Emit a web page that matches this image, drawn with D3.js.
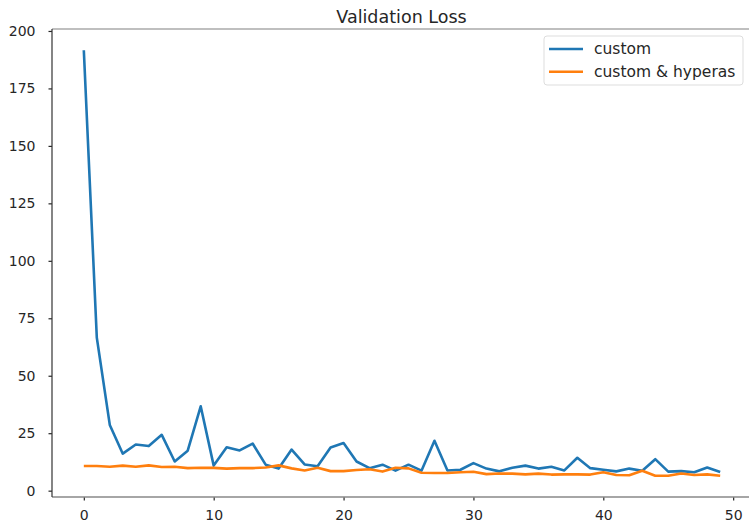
<!DOCTYPE html>
<html>
<head>
<meta charset="utf-8">
<script src="https://cdn.jsdelivr.net/npm/d3@7"></script>
<style>
  body { margin: 0; background: #fff; }
  svg { display: block; font-family: "DejaVu Sans", sans-serif; }
</style>
</head>
<body>
<div id="chart"></div>
<script>
// data
const epochs = d3.range(50);
const custom = [191.6, 66.6, 28.6, 16.1, 20.1, 19.4, 24.3, 12.7, 17.4, 36.7,
    10.9, 18.9, 17.5, 20.5, 11.3, 9.6, 17.9, 11.4, 10.6, 18.8,
    20.7, 12.7, 9.8, 11.3, 8.7, 11.3, 8.7, 21.7, 8.8, 9.1,
    12.0, 9.6, 8.4, 10.0, 10.9, 9.6, 10.4, 8.8, 14.3, 9.8,
    9.1, 8.4, 9.6, 8.7, 13.7, 8.3, 8.5, 8.0, 10.1, 8.1];
const customHyperas = [10.7, 10.7, 10.4, 10.9, 10.4, 11.0, 10.3, 10.4, 9.8, 10.0,
    9.9, 9.6, 9.8, 9.8, 10.1, 11.0, 9.7, 8.8, 10.0, 8.5,
    8.5, 9.0, 9.3, 8.3, 10.0, 9.7, 7.8, 7.7, 7.7, 8.0,
    8.2, 7.2, 7.5, 7.4, 7.1, 7.4, 7.0, 7.1, 7.1, 7.0,
    8.0, 6.8, 6.7, 8.7, 6.5, 6.5, 7.5, 6.8, 7.1, 6.5];
const seriesNames = ['custom', 'custom & hyperas'];
const xTicks = [0, 10, 20, 30, 40, 50];
const yTicks = [0, 25, 50, 75, 100, 125, 150, 175, 200];

// dimensions
const dim = {
    width: 749,
    height: 526,
    margin: { top: 29, right: -3, bottom: 29, left: 52 }
};
const innerW = dim.width - dim.margin.left - dim.margin.right;
const innerH = dim.height - dim.margin.top - dim.margin.bottom;

const svg = d3.select('#chart')
    .append('svg')
    .attr('width', dim.width)
    .attr('height', dim.height);

const g = svg.append('g')
    .attr('transform', `translate(${dim.margin.left}, ${dim.margin.top})`);

// scales with matplotlib-like 5% padding
const xPad = 0.05 * (d3.max(epochs) - d3.min(epochs));
const xScale = d3.scaleLinear()
    .domain([d3.min(epochs) - xPad, d3.max(epochs) + xPad])
    .range([0, innerW]);

const allY = custom.concat(customHyperas);
const yMin = d3.min(allY), yMax = d3.max(allY);
const yPad = 0.05 * (yMax - yMin);
const yScale = d3.scaleLinear()
    .domain([yMin - yPad, yMax + yPad])
    .range([innerH, 0]);

const color = d3.scaleOrdinal()
    .domain(seriesNames)
    .range(['#1f77b4', '#ff7f0e']);

// axes
const xAxis = g.append('g')
    .attr('transform', `translate(0, ${innerH})`)
    .call(d3.axisBottom(xScale).tickValues(xTicks).tickSize(3.5).tickPadding(10));
const yAxis = g.append('g')
    .call(d3.axisLeft(yScale).tickValues(yTicks).tickSize(3.5).tickPadding(13));

[xAxis, yAxis].forEach(ax => {
    ax.select('.domain').remove();
    ax.selectAll('.tick line').attr('stroke', '#262626').attr('stroke-width', 1.2);
    ax.selectAll('.tick text')
        .attr('fill', '#262626')
        .style('font-size', '14px')
        .style('font-family', '"DejaVu Sans", sans-serif');
});

// spines
g.append('line').attr('x1', 0).attr('x2', innerW).attr('y1', 0).attr('y2', 0)
    .attr('stroke', '#aaaaaa').attr('stroke-width', 1.5);
g.append('line').attr('x1', innerW).attr('x2', innerW).attr('y1', 0).attr('y2', innerH)
    .attr('stroke', '#aaaaaa').attr('stroke-width', 1.5);
g.append('line').attr('x1', 0).attr('x2', innerW).attr('y1', innerH).attr('y2', innerH)
    .attr('stroke', '#888888').attr('stroke-width', 1.5);
g.append('line').attr('x1', 0).attr('x2', 0).attr('y1', 0).attr('y2', innerH)
    .attr('stroke', '#333333').attr('stroke-width', 1.2);

// lines
const line = d3.line()
    .x((d, i) => xScale(epochs[i]))
    .y(d => yScale(d));

g.append('path')
    .datum(custom)
    .attr('fill', 'none')
    .attr('stroke', color('custom'))
    .attr('stroke-width', 2.6)
    .attr('stroke-linejoin', 'round')
    .attr('d', line);

g.append('path')
    .datum(customHyperas)
    .attr('fill', 'none')
    .attr('stroke', color('custom & hyperas'))
    .attr('stroke-width', 2.6)
    .attr('stroke-linejoin', 'round')
    .attr('d', line);

// title
svg.append('text')
    .attr('x', 401.5)
    .attr('y', 23)
    .attr('text-anchor', 'middle')
    .attr('fill', '#262626')
    .style('font-size', '17.5px')
    .text('Validation Loss');

// legend
const legend = svg.append('g').attr('transform', 'translate(544, 36)');
legend.append('rect')
    .attr('width', 199)
    .attr('height', 49)
    .attr('rx', 3)
    .attr('fill', '#fff')
    .attr('fill-opacity', 0.8)
    .attr('stroke', '#dddddd');

seriesNames.forEach((name, i) => {
    const row = legend.append('g').attr('transform', `translate(0, ${13 + i * 22.7})`);
    row.append('line')
        .attr('x1', 5).attr('x2', 39)
        .attr('stroke', color(name))
        .attr('stroke-width', 2.6);
    row.append('text')
        .attr('x', 50)
        .attr('dy', '0.35em')
        .attr('fill', '#262626')
        .style('font-size', '15.5px')
        .text(name);
});
</script>
</body>
</html>
